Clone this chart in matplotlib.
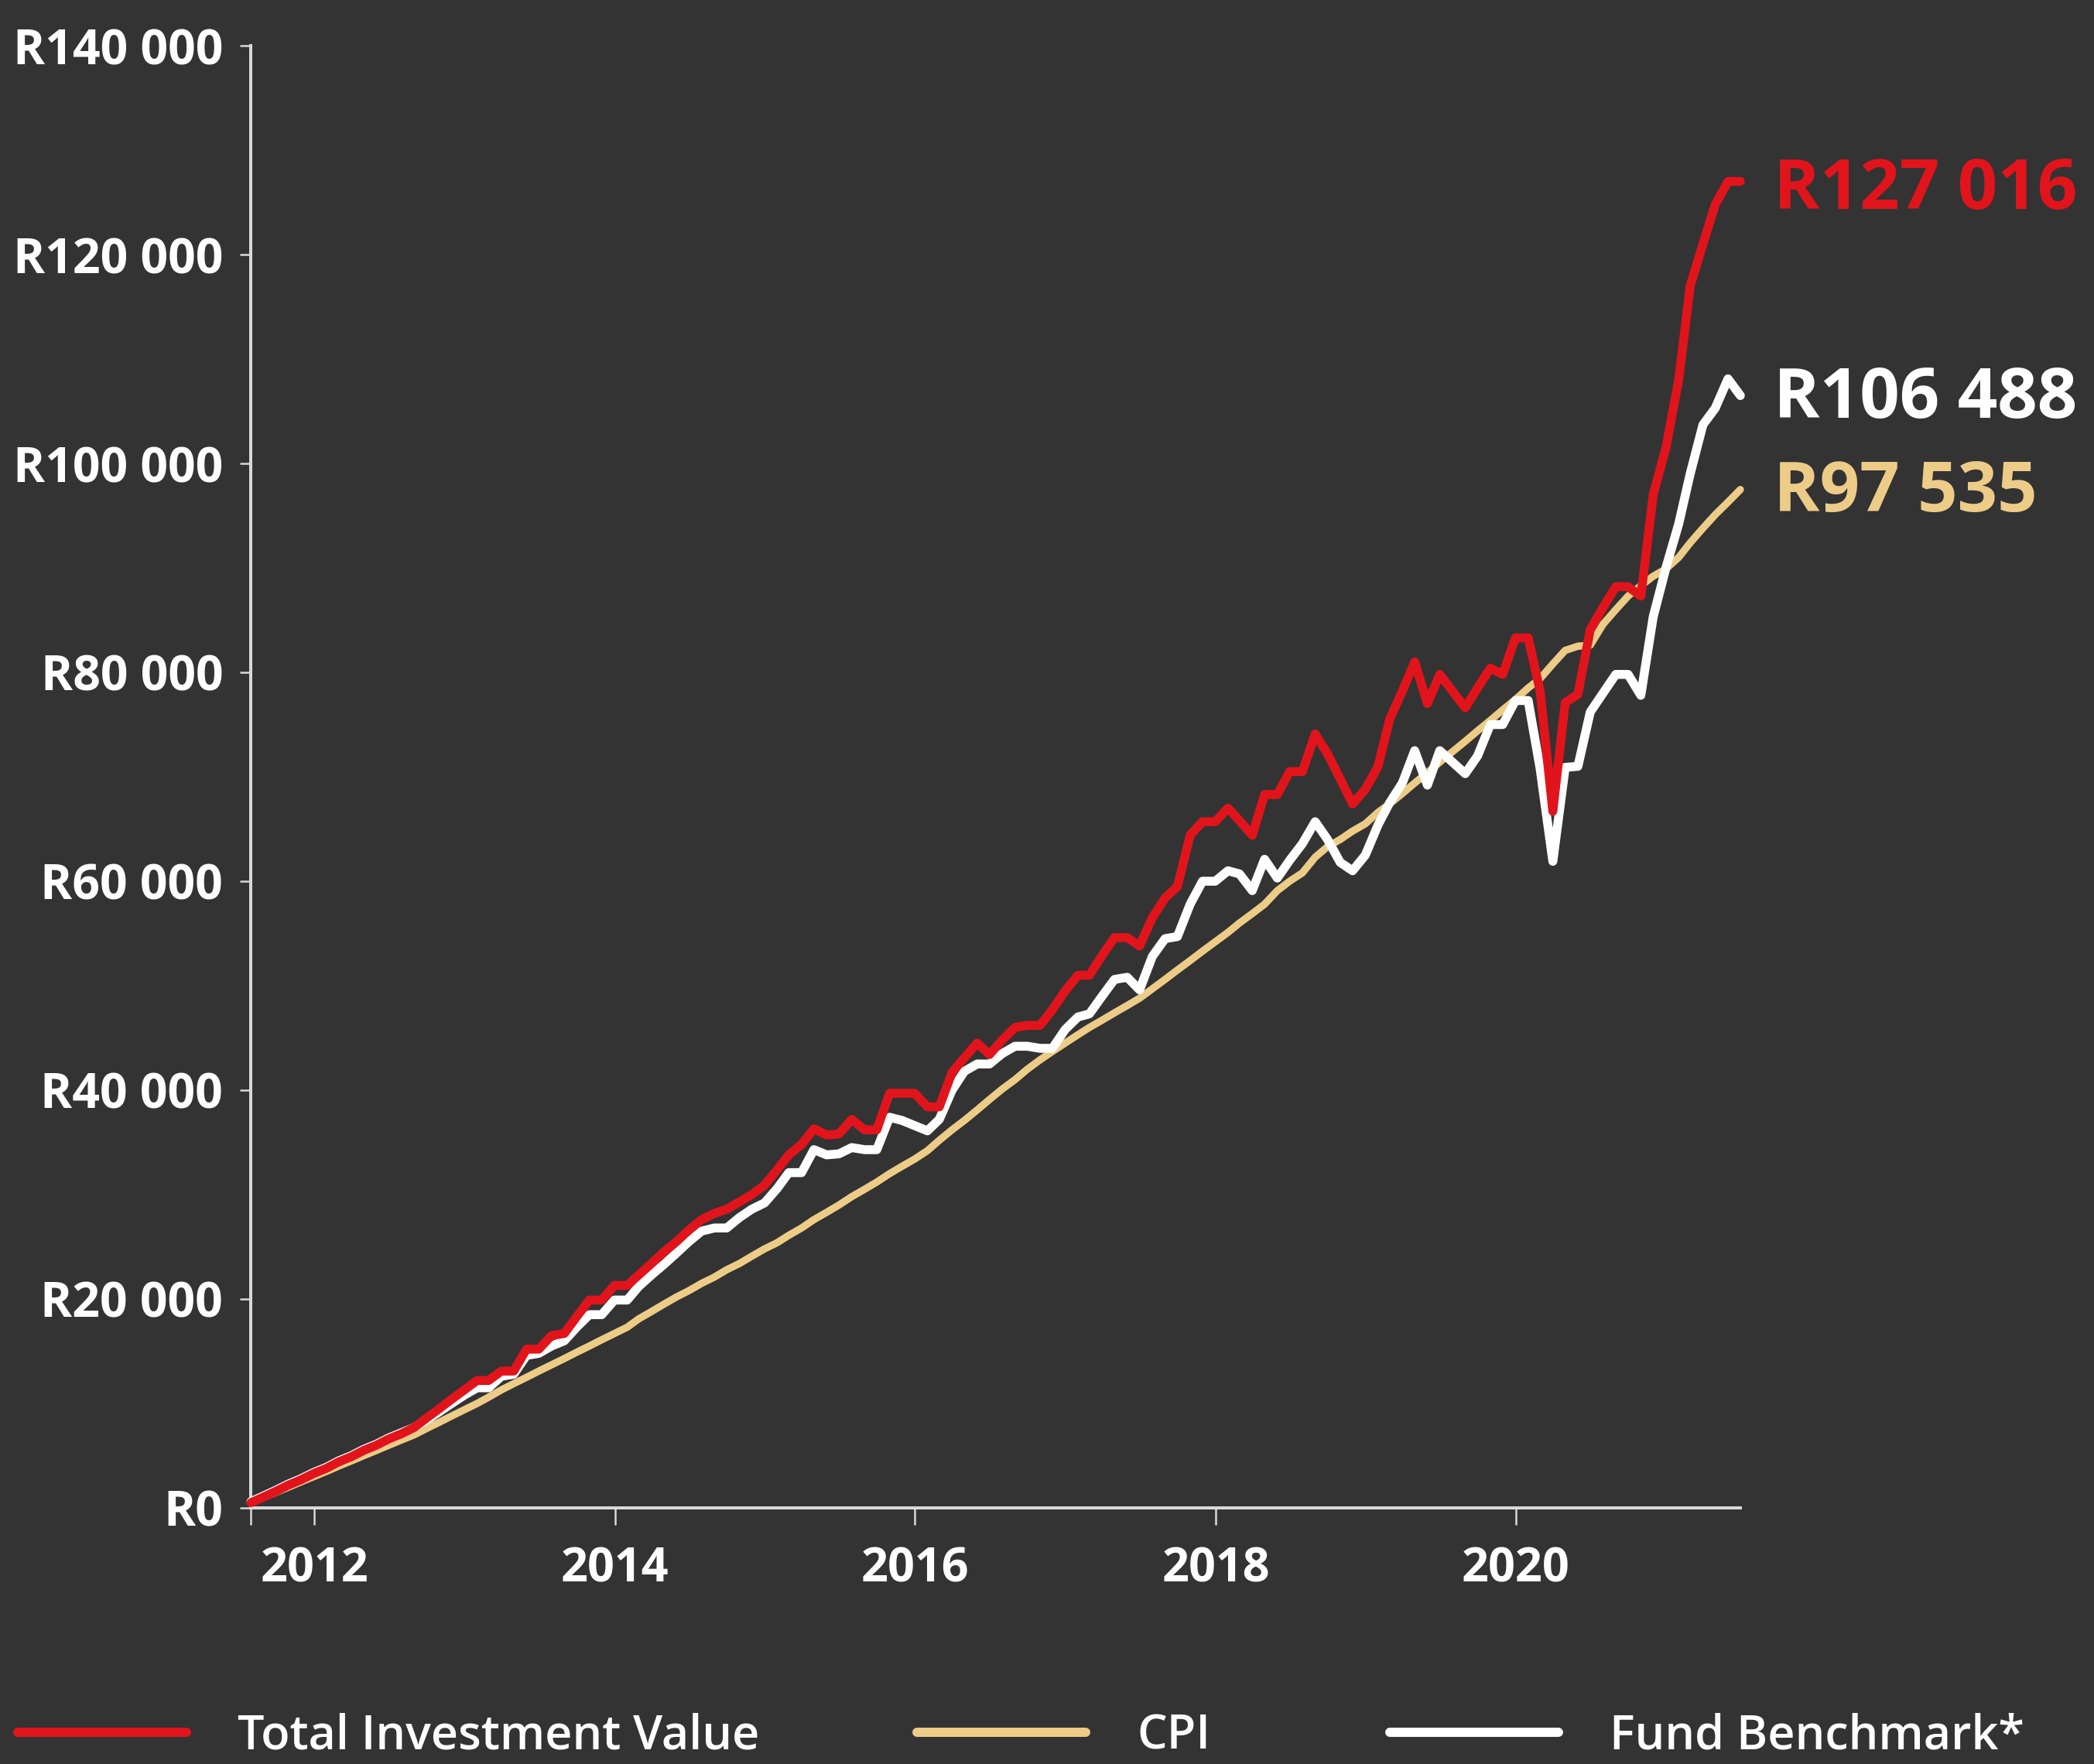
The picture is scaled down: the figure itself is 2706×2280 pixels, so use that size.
import matplotlib
matplotlib.use('Agg')
import matplotlib.pyplot as plt
from matplotlib.lines import Line2D
from matplotlib.ticker import FuncFormatter
import numpy as np
import pandas as pd

# ---------------- data (values in R thousands, monthly month-ends) ----------------
months = pd.date_range('2011-07-31', periods=120, freq='ME')

total_investment_k = [
    0.5, 1.05, 1.6, 2.2, 2.7, 3.3, 3.8, 4.4, 4.9, 5.5,
    6.0, 6.6, 7.1, 7.7, 8.6, 9.5, 10.4, 11.3, 12.2, 12.2,
    13.1, 13.1, 15.2, 15.2, 16.5, 16.7, 18.3, 19.9, 19.9, 21.3,
    21.3, 22.3, 23.4, 24.5, 25.5, 26.6, 27.6, 28.2, 28.6, 29.3,
    30.0, 30.9, 32.4, 33.8, 34.8, 36.3, 35.7, 35.8, 37.2, 36.2,
    36.2, 39.7, 39.7, 39.7, 38.4, 38.4, 41.7, 43.1, 44.5, 43.4,
    44.8, 46.0, 46.2, 46.2, 47.7, 49.5, 51.0, 51.0, 52.9, 54.6,
    54.6, 53.8, 56.5, 58.4, 59.5, 64.4, 65.7, 65.7, 67.0, 65.8,
    64.4, 68.3, 68.3, 70.5, 70.5, 74.1, 72.2, 69.8, 67.4, 68.8,
    71.0, 75.5, 78.2, 81.0, 77.0, 79.8, 78.2, 76.6, 78.5, 80.4,
    79.8, 83.3, 83.3, 78.2, 66.7, 77.1, 77.9, 84.1, 86.2, 88.2,
    88.2, 87.3, 97.0, 101.5, 108.0, 117.0, 121.0, 124.8, 127.0, 127.0,
]

fund_benchmark_k = [
    0.6, 1.15, 1.7, 2.3, 2.8, 3.4, 3.9, 4.5, 5.0, 5.6,
    6.1, 6.7, 7.2, 7.7, 8.4, 9.2, 10.0, 10.8, 11.5, 11.5,
    12.6, 12.8, 14.6, 14.8, 15.5, 16.0, 17.3, 18.5, 18.5, 19.9,
    19.9, 21.2, 22.3, 23.3, 24.4, 25.5, 26.5, 26.8, 26.8, 27.8,
    28.6, 29.2, 30.6, 32.1, 32.1, 34.3, 33.8, 33.9, 34.5, 34.3,
    34.3, 37.4, 37.1, 36.6, 36.1, 37.2, 40.0, 41.8, 42.5, 42.5,
    43.5, 44.2, 44.2, 44.0, 44.0, 45.8, 47.0, 47.3, 49.0, 50.6,
    50.8, 49.6, 52.8, 54.5, 54.7, 57.8, 60.0, 60.0, 61.0, 60.7,
    59.1, 62.1, 60.3, 62.0, 63.6, 65.7, 64.0, 61.8, 61.0, 62.5,
    65.4, 67.5, 69.4, 72.5, 69.2, 72.5, 71.4, 70.3, 72.0, 75.0,
    75.0, 77.3, 77.3, 70.8, 61.9, 70.9, 71.0, 76.2, 78.0, 79.8,
    79.8, 77.8, 85.3, 90.0, 94.2, 99.0, 103.7, 105.3, 108.1, 106.5,
]

cpi_k = [
    0.5, 1.0, 1.5, 2.0, 2.5, 3.0, 3.5, 4.0, 4.5, 5.0,
    5.5, 6.0, 6.5, 7.0, 7.6, 8.2, 8.8, 9.4, 10.0, 10.6,
    11.3, 11.9, 12.5, 13.1, 13.7, 14.3, 14.9, 15.5, 16.1, 16.7,
    17.3, 18.1, 18.8, 19.5, 20.2, 20.8, 21.5, 22.1, 22.8, 23.4,
    24.1, 24.8, 25.4, 26.1, 26.8, 27.6, 28.3, 29.0, 29.8, 30.5,
    31.2, 32.0, 32.7, 33.4, 34.2, 35.2, 36.2, 37.1, 38.1, 39.1,
    40.1, 41.0, 42.0, 42.9, 43.7, 44.5, 45.3, 46.0, 46.7, 47.4,
    48.1, 48.8, 49.7, 50.6, 51.5, 52.4, 53.3, 54.2, 55.1, 56.0,
    56.9, 57.8, 59.1, 60.0, 60.8, 62.3, 63.3, 64.0, 64.8, 65.5,
    66.6, 67.4, 68.4, 69.4, 70.4, 71.4, 72.4, 73.4, 74.4, 75.4,
    76.4, 77.4, 78.5, 79.4, 80.8, 82.1, 82.5, 82.6, 84.6, 86.0,
    87.3, 88.3, 89.2, 89.9, 91.0, 92.4, 93.8, 95.1, 96.3, 97.5,
]

series_names = ['Total Investment Value', 'CPI', 'Fund Benchmark*']
end_values = [127016, 97535, 106488]
end_labels = ['R127 016', 'R97 535', 'R106 488']
year_ticks = ['2012', '2014', '2016', '2018', '2020']
y_ticks = [0, 20000, 40000, 60000, 80000, 100000, 120000, 140000]

# ---------------- style ----------------
BG = '#333333'
RED = '#E1141C'
BEIGE = '#EDCC88'
WHITE = '#FFFFFF'
AXIS = '#D9D9D9'

plt.rcParams['font.family'] = ['Open Sans', 'DejaVu Sans']

fig = plt.figure(figsize=(27.06, 22.8), dpi=100, facecolor=BG)
ax = fig.add_axes([0.11985, 0.14518, 0.71126, 0.82894])
ax.set_facecolor(BG)

colors = [RED, BEIGE, WHITE]
data = [total_investment_k, cpi_k, fund_benchmark_k]
widths = [8.3, 6.8, 8.3]
zorders = [4, 2, 3]
for vals, c, lw, z in zip(data, colors, widths, zorders):
    ax.plot(months, np.array(vals) * 1000, color=c, lw=lw, zorder=z,
            solid_capstyle='round', solid_joinstyle='round', clip_on=False)

ax.set_xlim(months[0], months[-1])
ax.set_ylim(0, 140000)

for s in ['top', 'right']:
    ax.spines[s].set_visible(False)
for s in ['left', 'bottom']:
    ax.spines[s].set_color(AXIS)
    ax.spines[s].set_linewidth(2.9)

ax.set_xticks([pd.Timestamp(f'{y}-01-01') for y in year_ticks])
ax.set_xticklabels(year_ticks)
ax.set_xticks([months[0]], minor=True)
ax.set_yticks(y_ticks)
ax.yaxis.set_major_formatter(FuncFormatter(
    lambda v, p: 'R' + f'{int(v):,}'.replace(',', ' ')))

ax.tick_params(axis='x', which='both', length=16, width=1.8, color=AXIS,
               pad=20, labelsize=44, labelcolor='white')
ax.tick_params(axis='y', length=10, width=1.8, color=AXIS,
               pad=16, labelsize=45, labelcolor='white')
for lbl in ax.get_xticklabels() + ax.get_yticklabels():
    lbl.set_fontweight('bold')

# end value labels
offsets = [(31, -9), (31, -4), (31, -4)]
for val, txt, c, off in zip(end_values, end_labels, colors, offsets):
    ax.annotate(txt, xy=(months[-1], val), xytext=off,
                textcoords='offset points', ha='left', va='center',
                fontsize=65, fontweight='bold', color=c,
                annotation_clip=False)

# legend (three separate entries)
legend_x = [0.0085, 0.438, 0.6637]
for name, c, lx in zip(series_names, colors, legend_x):
    h = Line2D([], [], color=c, lw=8.6, solid_capstyle='round')
    lg = fig.legend(handles=[h], labels=[name], loc='center left',
                    bbox_to_anchor=(lx, 0.0155), frameon=False,
                    borderpad=0, borderaxespad=0, handlelength=3.57,
                    handletextpad=1.08, fontsize=44)
    for t in lg.get_texts():
        t.set_color('white')
        t.set_fontweight('semibold')

fig.savefig('out.png', dpi=100, facecolor=BG)
